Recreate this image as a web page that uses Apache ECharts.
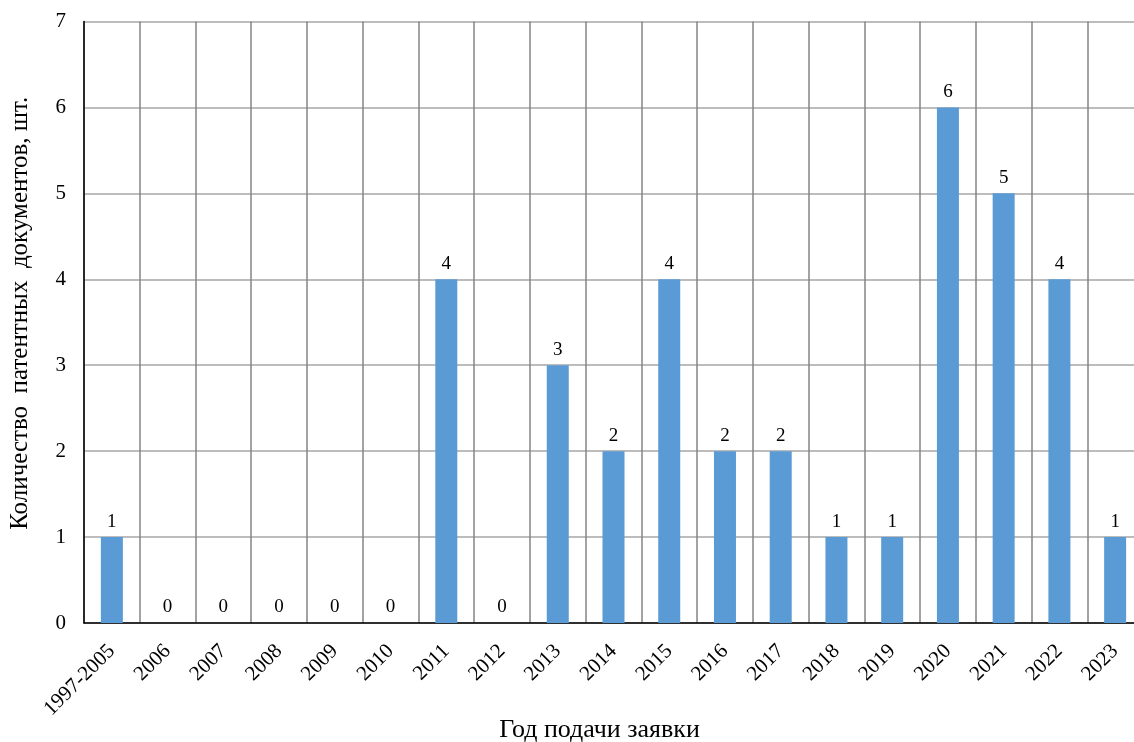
<!DOCTYPE html>
<html>
<head>
<meta charset="utf-8">
<script src="https://cdn.jsdelivr.net/npm/echarts@6/dist/echarts.min.js"></script>
<style>
  html, body { margin: 0; padding: 0; background: #fff; }
  #chart { width: 1134px; height: 742px; }
</style>
</head>
<body>
<div id="chart"></div>
<script>
// Filing years and patent document counts
const years = ['1997-2005', '2006', '2007', '2008', '2009', '2010', '2011', '2012', '2013',
  '2014', '2015', '2016', '2017', '2018', '2019', '2020', '2021', '2022', '2023'];
const counts = [1, 0, 0, 0, 0, 0, 4, 0, 3, 2, 4, 2, 2, 1, 1, 6, 5, 4, 1];
const yTicks = [0, 1, 2, 3, 4, 5, 6, 7];

const FONT = '"Liberation Serif", "Times New Roman", serif';
const chart = echarts.init(document.getElementById('chart'), null, { renderer: 'canvas' });

chart.setOption({
  animation: false,
  backgroundColor: '#ffffff',
  grid: {
    left: 84, right: -9, top: 21.5, bottom: 119,
    containLabel: false,
    outerBoundsMode: 'none'
  },
  xAxis: {
    type: 'category',
    data: years,
    name: 'Год подачи заявки',
    nameLocation: 'middle',
    nameGap: 94,
    nameMoveOverlap: false,
    nameTextStyle: {
      fontFamily: FONT, fontSize: 26, color: '#000',
      padding: [0, 28, 0, 0]
    },
    axisLine: { show: true, lineStyle: { color: '#000', width: 1.5 } },
    axisTick: { show: false },
    axisLabel: {
      rotate: 45, interval: 0, margin: 25,
      fontFamily: FONT, fontSize: 21, color: '#000'
    },
    splitLine: { show: true, lineStyle: { color: '#858585', width: 1.5 } }
  },
  yAxis: {
    type: 'value',
    min: yTicks[0],
    max: yTicks[yTicks.length - 1],
    interval: 1,
    name: 'Количество  патентных  документов, шт.',
    nameLocation: 'middle',
    nameGap: 51,
    nameMoveOverlap: false,
    nameTextStyle: {
      fontFamily: FONT, fontSize: 25, color: '#000',
      padding: [0, 0, 0, 18]
    },
    axisLine: { show: true, lineStyle: { color: '#000', width: 1.5 } },
    axisTick: { show: false },
    axisLabel: { margin: 18, fontFamily: FONT, fontSize: 21, color: '#000' },
    splitLine: { show: true, lineStyle: { color: '#a6a6a6', width: 1.5 } }
  },
  series: [{
    type: 'bar',
    data: counts,
    barWidth: 22,
    itemStyle: { color: '#5b9bd5' },
    label: {
      show: true, position: 'top', distance: 6,
      fontFamily: FONT, fontSize: 19, color: '#000'
    }
  }]
});
</script>
</body>
</html>
